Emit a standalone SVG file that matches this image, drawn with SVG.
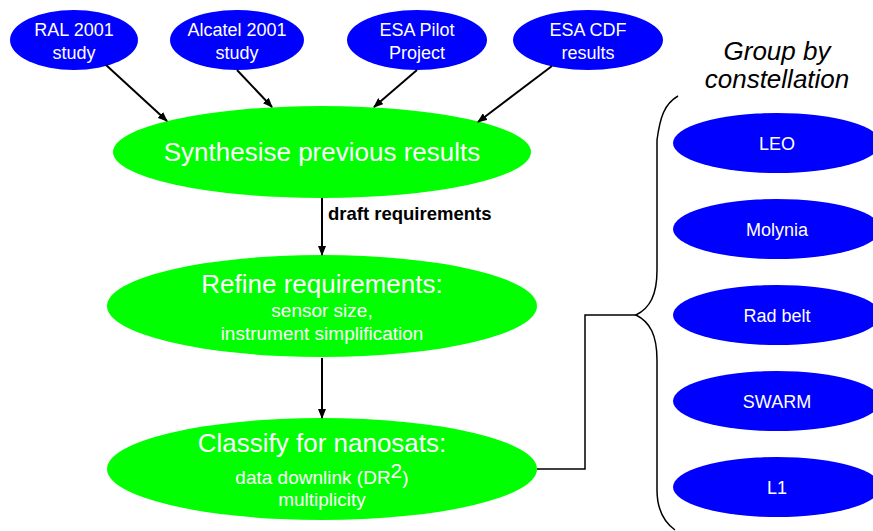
<svg xmlns="http://www.w3.org/2000/svg" width="873" height="531" viewBox="0 0 873 531">
<style>
.blue{fill:#0000ff}
.green{fill:#00ff00}
.t{font-family:"Liberation Sans",Arial,sans-serif;fill:#ffffff;text-anchor:middle}
.ts{font-size:18px}
.tb{font-size:26px}
.tm{font-size:19px}
.e{stroke:#000;stroke-width:2;fill:none}
.lab{font-family:"Liberation Sans",Arial,sans-serif;font-size:18.5px;font-weight:bold;fill:#000}
.grp{font-family:"Liberation Sans",Arial,sans-serif;font-size:26px;font-style:italic;fill:#000;text-anchor:middle}
</style>
<defs>
<marker id="ah" markerWidth="10" markerHeight="8" refX="9" refY="4" orient="auto" markerUnits="userSpaceOnUse">
<path d="M0,0 L10,4 L0,8 z" fill="#000"/>
</marker>
</defs>
<g id="n-ral"><ellipse class="blue" cx="74" cy="40" rx="64" ry="30"/><text class="t ts" x="74" y="36">RAL 2001</text><text class="t ts" x="74" y="59">study</text></g>
<g id="n-alcatel"><ellipse class="blue" cx="237" cy="40" rx="67" ry="30"/><text class="t ts" x="237" y="36">Alcatel 2001</text><text class="t ts" x="237" y="59">study</text></g>
<g id="n-esapilot"><ellipse class="blue" cx="417" cy="40" rx="70" ry="30"/><text class="t ts" x="417" y="36">ESA Pilot</text><text class="t ts" x="417" y="59">Project</text></g>
<g id="n-esacdf"><ellipse class="blue" cx="588" cy="40" rx="75" ry="30"/><text class="t ts" x="588" y="36">ESA CDF</text><text class="t ts" x="588" y="59">results</text></g>
<g id="n-synth"><ellipse class="green" cx="322" cy="152" rx="209" ry="46"/><text class="t tb" x="322" y="161">Synthesise previous results</text></g>
<g id="n-refine"><ellipse class="green" cx="322" cy="306" rx="215" ry="51"/><text class="t tb" x="322" y="293">Refine requirements:</text><text class="t tm" x="322" y="317">sensor size,</text><text class="t tm" x="322" y="340">instrument simplification</text></g>
<g id="n-classify"><ellipse class="green" cx="322" cy="469" rx="215" ry="51"/><text class="t tb" x="322" y="452">Classify for nanosats:</text><text class="t tm" x="322" y="484">data downlink (DR<tspan dy="-6" font-size="21">2</tspan><tspan dy="6">)</tspan></text><text class="t tm" x="322" y="506">multiplicity</text></g>
<g id="n-group"><text class="grp" x="777" y="60">Group by</text><text class="grp" x="777" y="88">constellation</text></g>
<g id="n-leo"><ellipse class="blue" cx="777" cy="143" rx="104" ry="30"/><text class="t ts" x="777" y="150">LEO</text></g>
<g id="n-molynia"><ellipse class="blue" cx="777" cy="229" rx="104" ry="30"/><text class="t ts" x="777" y="236">Molynia</text></g>
<g id="n-radbelt"><ellipse class="blue" cx="777" cy="315" rx="104" ry="30"/><text class="t ts" x="777" y="322">Rad belt</text></g>
<g id="n-swarm"><ellipse class="blue" cx="777" cy="401" rx="104" ry="30"/><text class="t ts" x="777" y="408">SWARM</text></g>
<g id="n-l1"><ellipse class="blue" cx="777" cy="487" rx="104" ry="30"/><text class="t ts" x="777" y="494">L1</text></g>
<g id="connectors">
<line class="e" x1="106" y1="65" x2="167" y2="121" marker-end="url(#ah)"/>
<line class="e" x1="237" y1="70" x2="272" y2="107" marker-end="url(#ah)"/>
<line class="e" x1="417" y1="70" x2="374" y2="107" marker-end="url(#ah)"/>
<line class="e" x1="552" y1="66" x2="478" y2="122" marker-end="url(#ah)"/>
<line class="e" x1="322" y1="198" x2="322" y2="255" marker-end="url(#ah)"/>
<text class="lab" x="328" y="220">draft requirements</text>
<line class="e" x1="322" y1="358" x2="322" y2="418" marker-end="url(#ah)"/>
<path d="M537,469 H585 V315 H636" fill="none" stroke="#000" stroke-width="1.5"/>
<path d="M678,96 C664,104 660,118 657,140 V270 C657,295 650,308 636,315 C650,322 657,335 657,360 V490 C657,510 664,522 675,530" fill="none" stroke="#000" stroke-width="1.5"/>
</g>
</svg>
